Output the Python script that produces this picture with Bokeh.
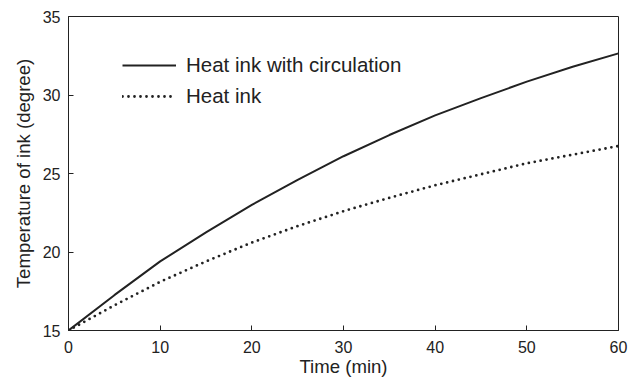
from bokeh.plotting import figure
from bokeh.models import Range1d, Legend, LegendItem, FixedTicker
from bokeh.embed import file_html
from bokeh.resources import INLINE

time_min = [0, 5, 10, 15, 20, 25, 30, 35, 40, 45, 50, 55, 60]
with_circulation = [15.0, 17.25, 19.4, 21.25, 23.0, 24.6, 26.1, 27.45, 28.7, 29.8, 30.85, 31.8, 32.65]
heat_ink = [15.0, 16.6, 18.1, 19.4, 20.6, 21.65, 22.6, 23.45, 24.25, 24.95, 25.65, 26.2, 26.75]
x_ticks = [0, 10, 20, 30, 40, 50, 60]
y_ticks = [15, 20, 25, 30, 35]

FONT = "Liberation Sans"
INK = "#222222"

p = figure(width=634, height=379, output_backend="svg", toolbar_location=None,
           x_range=Range1d(0, 60), y_range=Range1d(15, 35),
           min_border_left=68, min_border_right=16, min_border_top=16, min_border_bottom=49)
p.grid.visible = False
p.outline_line_color = INK
p.outline_line_width = 1
p.background_fill_color = "white"
p.border_fill_color = "white"

r1 = p.line(time_min, with_circulation, line_color=INK, line_width=2)
r2 = p.line(time_min, heat_ink, line_color=INK, line_width=2.8, line_dash="0 6", line_cap="round")

for ax in (p.xaxis[0], p.yaxis[0]):
    ax.major_tick_in = 5
    ax.major_tick_out = 0
    ax.minor_tick_in = 0
    ax.minor_tick_out = 0
    ax.axis_line_color = INK
    ax.major_tick_line_color = INK
    ax.major_label_text_font = FONT
    ax.major_label_text_font_size = "16px"
    ax.major_label_text_color = INK
    ax.axis_label_text_font = FONT
    ax.axis_label_text_font_size = "18.6px"
    ax.axis_label_text_font_style = "normal"
    ax.axis_label_text_color = INK

p.xaxis.ticker = FixedTicker(ticks=x_ticks)
p.yaxis.ticker = FixedTicker(ticks=y_ticks)
p.xaxis.axis_label = "Time (min)"
p.yaxis.axis_label = "Temperature of ink (degree)"
p.xaxis.major_label_standoff = 10
p.yaxis.major_label_standoff = 8
p.xaxis.axis_label_standoff = 0
p.yaxis.axis_label_standoff = 6

legend = Legend(items=[LegendItem(label="Heat ink with circulation", renderers=[r1]),
                       LegendItem(label="Heat ink", renderers=[r2])],
                location=(54, 222), padding=0, spacing=7,
                glyph_width=54, glyph_height=20, label_height=20, label_standoff=10,
                label_text_font=FONT, label_text_font_size="20.5px", label_text_color=INK,
                border_line_color=None, background_fill_alpha=0)
p.add_layout(legend)

open("out.html", "w").write(file_html(p, INLINE))
